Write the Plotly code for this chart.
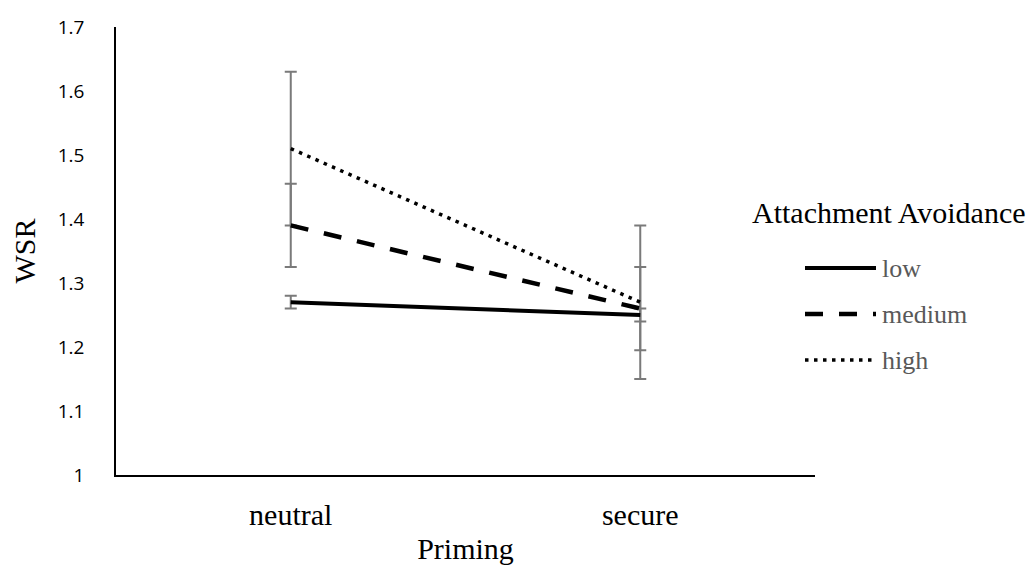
import plotly.graph_objects as go

categories = ["neutral", "secure"]
series_names = ["low", "medium", "high"]
low_vals = [1.27, 1.25]
medium_vals = [1.39, 1.26]
high_vals = [1.51, 1.27]
low_err = [0.01, 0.01]
medium_err = [0.065, 0.065]
high_err = [0.12, 0.12]
y_ticks = [1, 1.1, 1.2, 1.3, 1.4, 1.5, 1.6, 1.7]
y_tick_labels = ["1", "1.1", "1.2", "1.3", "1.4", "1.5", "1.6", "1.7"]

SERIF = "Liberation Serif, Times New Roman, serif"
SANS = "Open Sans, Liberation Sans, sans-serif"

values = [low_vals, medium_vals, high_vals]
errors = [low_err, medium_err, high_err]
styles = [
    dict(color="black", width=4, dash="solid"),
    dict(color="black", width=4.5, dash="18px,16px"),
    dict(color="black", width=3.5, dash="3.5px,5.5px"),
]

fig = go.Figure()

# error bars first (beneath the lines)
for name, vals, err in zip(series_names, values, errors):
    fig.add_trace(go.Scatter(
        x=categories, y=vals, mode="markers",
        marker=dict(size=1, opacity=0),
        error_y=dict(type="data", array=err, visible=True,
                     color="#7a7a7a", thickness=2, width=6),
        showlegend=False, hoverinfo="skip",
    ))

for name, vals, st in zip(series_names, values, styles):
    fig.add_trace(go.Scatter(
        x=categories, y=vals, mode="lines", name=name,
        line=st, showlegend=False,
    ))

# manual legend (title + line samples + labels), paper coordinates
plot_l, plot_r, plot_t, plot_b = 108, 807, 19, 467
W = plot_r - plot_l
H = plot_b - plot_t


def px(x):
    return (x - plot_l) / W


def py(y):
    return (plot_b - y) / H


fig.add_annotation(x=px(742), y=py(204), xref="paper", yref="paper",
                   text="Attachment Avoidance", showarrow=False,
                   xanchor="left", yanchor="middle",
                   font=dict(family=SERIF, size=30, color="black"))
leg_y = [260, 306, 352]
for name, st, yy in zip(series_names, styles, leg_y):
    fig.add_shape(type="line", xref="paper", yref="paper",
                  x0=px(797), x1=px(868), y0=py(yy), y1=py(yy),
                  line=st)
    fig.add_annotation(x=px(872), y=py(yy), xref="paper", yref="paper",
                       text=name, showarrow=False, xanchor="left",
                       yanchor="middle",
                       font=dict(family=SERIF, size=26, color="#595959"))

fig.update_layout(
    width=1034, height=571,
    margin=dict(l=plot_l, r=1034 - plot_r, t=plot_t, b=571 - plot_b,
                autoexpand=False),
    paper_bgcolor="white", plot_bgcolor="white",
    showlegend=False,
)
fig.update_xaxes(
    type="category", range=[-0.5, 1.5], automargin=False,
    showline=True, linecolor="black", linewidth=1.5,
    showgrid=False, zeroline=False, ticks="",
    ticklabelstandoff=12,
    tickfont=dict(family=SERIF, size=30, color="black"),
    title=dict(text="Priming", font=dict(family=SERIF, size=30, color="black"),
               standoff=8),
)
fig.update_yaxes(
    range=[1, 1.7], tickvals=y_ticks, ticktext=y_tick_labels,
    automargin=False,
    showline=True, linecolor="black", linewidth=1.5,
    showgrid=False, zeroline=False, ticks="",
    ticklabelstandoff=26,
    tickfont=dict(family=SANS, size=19, color="black"),
    title=dict(text="WSR", font=dict(family=SERIF, size=30, color="black"),
               standoff=14),
)

fig.write_html("out.html")
